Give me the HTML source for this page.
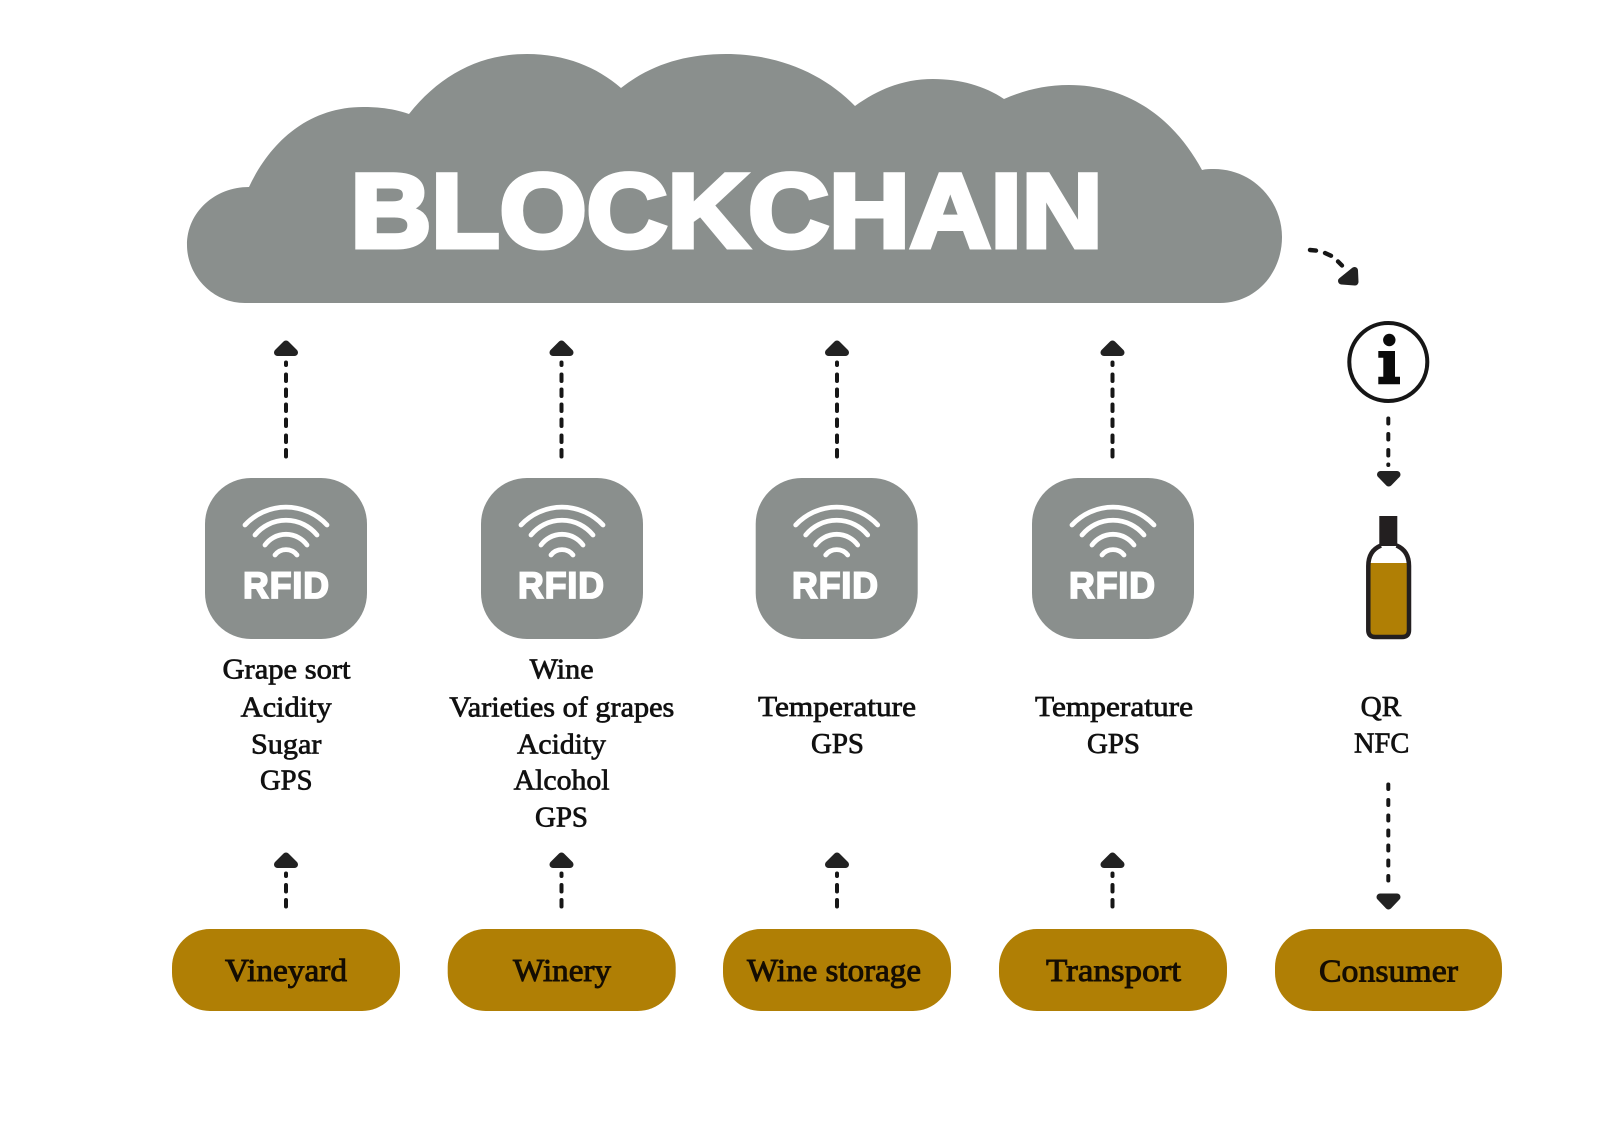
<!DOCTYPE html>
<html>
<head>
<meta charset="utf-8">
<style>
html,body{margin:0;padding:0;background:#fff;}
svg{display:block;}
.s{font-family:"Liberation Serif",serif;font-size:28px;fill:#111;stroke:#111;stroke-width:.7px;}
.p{font-family:"Liberation Serif",serif;font-size:32px;fill:#150d02;stroke:#150d02;stroke-width:.9px;}
.r{font-family:"Liberation Sans",sans-serif;font-weight:700;font-size:37px;fill:#fff;stroke:#fff;stroke-width:1.8px;letter-spacing:1px;}
.wave{fill:none;stroke:#fff;stroke-width:4.8;stroke-linecap:round;}
.d{fill:none;stroke:#161616;stroke-width:4;stroke-linecap:round;}
.a{fill:#222;stroke:#222;stroke-width:7;stroke-linejoin:round;}
</style>
</head>
<body>
<svg width="1600" height="1132" viewBox="0 0 1600 1132" xmlns="http://www.w3.org/2000/svg">
<rect width="1600" height="1132" fill="#fff"/>
<path fill="#8a8f8d" d="M249 187 C271 140 310 107 363 107 C380 107 395 109 409 114 C440 75 480 54 527 54 C565 54 597 67 621 88 C650 65 685 54 726 54 C780 54 825 75 855 106 C880 88 905 79 933 79 C960 79 985 86 1004 99 C1025 90 1045 85 1069 85 C1130 85 1175 120 1202 170 C1206 169 1210 169 1214 169 C1252 169 1282 200 1282 237 C1282 274 1255 303 1220 303 L245 303 C212 303 187 275 187 245 C187 212 215 187 249 187 Z"/>
<text x="350.5" y="247" font-family="'Liberation Sans',sans-serif" font-weight="700" font-size="105" fill="#fff" stroke="#fff" stroke-width="5" textLength="752" lengthAdjust="spacingAndGlyphs">BLOCKCHAIN</text>

<defs>
<g id="rfidshape">
<rect x="-81" y="478" width="162" height="161" rx="46" fill="#8a8f8d"/>
<path class="wave" d="M-41 525 A56 56 0 0 1 41 525"/>
<path class="wave" d="M-31 535 A40 40 0 0 1 31 535"/>
<path class="wave" d="M-21 545 A26 26 0 0 1 21 545"/>
<path class="wave" d="M-11 555 A14 14 0 0 1 11 555"/>
</g>
<g id="up">
<polygon class="a" points="0,344 -8.5,352.5 8.5,352.5"/>
<path class="d" d="M0 362.5V365M0 374.5V381M0 389.5V396M0 404.5V411M0 419.5V426M0 435.5V442M0 450V456.5"/>
</g>
<g id="uplow">
<polygon class="a" points="0,856 -8.5,864.5 8.5,864.5"/>
<path class="d" d="M0 873.5V876M0 885V891.5M0 900V906.5"/>
</g>
<rect id="pill" x="-114" y="929" width="228" height="82" rx="38" fill="#b07f05"/>
</defs>

<!-- Column 1 -->
<use href="#up" x="286"/>
<use href="#rfidshape" x="286"/>
<text class="r" x="243" y="598" textLength="87" lengthAdjust="spacingAndGlyphs">RFID</text>
<text class="s" x="222.5" y="678.7" textLength="128" lengthAdjust="spacingAndGlyphs">Grape sort</text>
<text class="s" x="240.7" y="716.7" textLength="91" lengthAdjust="spacingAndGlyphs">Acidity</text>
<text class="s" x="251" y="753.7" textLength="70.4" lengthAdjust="spacingAndGlyphs">Sugar</text>
<text class="s" x="260" y="789.7" textLength="52.5" lengthAdjust="spacingAndGlyphs">GPS</text>
<use href="#uplow" x="286"/>
<use href="#pill" x="286"/>
<text class="p" x="225" y="981" textLength="122" lengthAdjust="spacingAndGlyphs">Vineyard</text>

<!-- Column 2 -->
<use href="#up" x="561.5"/>
<use href="#rfidshape" x="562"/>
<text class="r" x="518" y="598" textLength="87" lengthAdjust="spacingAndGlyphs">RFID</text>
<text class="s" x="529.6" y="678.7" textLength="64" lengthAdjust="spacingAndGlyphs">Wine</text>
<text class="s" x="449.3" y="716.7" textLength="225" lengthAdjust="spacingAndGlyphs">Varieties of grapes</text>
<text class="s" x="517" y="753.7" textLength="89" lengthAdjust="spacingAndGlyphs">Acidity</text>
<text class="s" x="513.6" y="789.7" textLength="96" lengthAdjust="spacingAndGlyphs">Alcohol</text>
<text class="s" x="535" y="826.7" textLength="53" lengthAdjust="spacingAndGlyphs">GPS</text>
<use href="#uplow" x="561.5"/>
<use href="#pill" x="561.7"/>
<text class="p" x="513" y="981" textLength="98" lengthAdjust="spacingAndGlyphs">Winery</text>

<!-- Column 3 -->
<use href="#up" x="837"/>
<use href="#rfidshape" x="836.7"/>
<text class="r" x="792" y="598" textLength="87" lengthAdjust="spacingAndGlyphs">RFID</text>
<text class="s" x="758" y="716" textLength="158" lengthAdjust="spacingAndGlyphs">Temperature</text>
<text class="s" x="811" y="753" textLength="53" lengthAdjust="spacingAndGlyphs">GPS</text>
<use href="#uplow" x="837"/>
<use href="#pill" x="837"/>
<text class="p" x="747" y="981" textLength="174" lengthAdjust="spacingAndGlyphs">Wine storage</text>

<!-- Column 4 -->
<use href="#up" x="1112.5"/>
<use href="#rfidshape" x="1113"/>
<text class="r" x="1069" y="598" textLength="87" lengthAdjust="spacingAndGlyphs">RFID</text>
<text class="s" x="1035" y="716" textLength="158" lengthAdjust="spacingAndGlyphs">Temperature</text>
<text class="s" x="1087" y="753" textLength="53" lengthAdjust="spacingAndGlyphs">GPS</text>
<use href="#uplow" x="1112.5"/>
<use href="#pill" x="1113"/>
<text class="p" x="1046" y="981" textLength="135" lengthAdjust="spacingAndGlyphs">Transport</text>

<!-- Column 5 -->
<path class="d" style="stroke-width:4.4" d="M1310 250L1316 250.6M1325 253L1331 255.7M1338 261.5L1342 265.5"/>
<polygon class="a" points="1354.5,270.5 1355,282 1341.5,281"/>

<circle cx="1388.3" cy="362" r="39" fill="#fff" stroke="#161616" stroke-width="4"/>
<circle cx="1389.3" cy="340" r="6.2" fill="#0a0a0a"/>
<path fill="#0a0a0a" d="M1378.3 351H1395V376.7H1400V384.3H1378.3V376.7H1383.3V357.7H1378.3Z"/>

<path class="d" d="M1388.3 418.5V423.5M1388.3 434V439.5M1388.3 450V455.5M1388.3 464.5V465"/>
<polygon class="a" points="1380.5,474.5 1397,474.5 1388.7,483"/>

<path fill="#b07f05" d="M1369 563H1408V636H1369Z"/>
<path fill="none" stroke="#231f20" stroke-width="4.5" stroke-linejoin="round" d="M1381 545.5 C1372.5 549 1368.3 556 1368.3 566 V630 Q1368.3 637 1375.3 637 H1402 Q1409 637 1409 630 V566 C1409 556 1404.8 549 1396.5 545.5"/>
<rect x="1379.3" y="516" width="18" height="30" fill="#231f20"/>

<text class="s" x="1360.7" y="716" textLength="40.6" lengthAdjust="spacingAndGlyphs">QR</text>
<text class="s" x="1354" y="752.7" textLength="55.3" lengthAdjust="spacingAndGlyphs">NFC</text>

<path class="d" d="M1388.3 784.5V789M1388.3 800V805M1388.3 815.5V820.5M1388.3 830.5V835.5M1388.3 845.5V850.5M1388.3 860.5V865.5M1388.3 876V880.5"/>
<polygon class="a" points="1380,897 1397,897 1388.5,906"/>

<rect x="1275" y="929" width="227" height="82" rx="38" fill="#b07f05"/>
<text class="p" x="1319" y="981.5" textLength="139" lengthAdjust="spacingAndGlyphs">Consumer</text>
</svg>
</body>
</html>
